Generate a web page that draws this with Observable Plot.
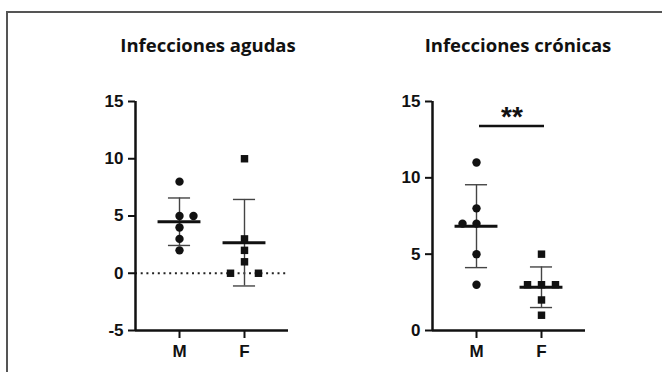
<!DOCTYPE html>
<html><head><meta charset="utf-8">
<script src="https://cdn.jsdelivr.net/npm/d3@7"></script>
<script src="https://cdn.jsdelivr.net/npm/@observablehq/plot@0.6"></script>
<style>
body{margin:0;background:#fff;}
#wrap{position:relative;width:662px;height:372px;overflow:hidden;background:#fff;}
#frame{position:absolute;left:6px;top:11px;right:-10px;bottom:-10px;border-top:2px solid #555;border-left:2px solid #555;}
.title{position:absolute;font-family:"Open Sans";font-weight:700;font-size:18.5px;color:#111;white-space:nowrap;transform:translateX(-50%);}
.panel{position:absolute;top:70px;}
</style></head><body>
<div id="wrap"><div id="frame"></div>
<div class="title" style="left:208px;top:32px">Infecciones agudas</div>
<div class="title" style="left:518px;top:32px">Infecciones crónicas</div>
<div class="panel" id="p1" style="left:60px"></div>
<div class="panel" id="p2" style="left:357px"></div>
</div>
<script>
const groups = ["M", "F"];
const acuteM = [8, 5, 5, 4, 3, 2];
const acuteMLane = [0, 0, 1, 0, 0, 0];
const acuteF = [10, 3, 2, 1, 0, 0];
const acuteFLane = [0, 0, 0, 0, -1, 1];
const chronicM = [11, 8, 7, 7, 5, 3];
const chronicMLane = [0, 0, -1, 0, 0, 0];
const chronicF = [5, 3, 3, 3, 2, 1];
const chronicFLane = [0, -1, 0, 1, 0, 0];
const acuteTicks = [-5, 0, 5, 10, 15];
const chronicTicks = [0, 5, 10, 15];
const sigLabel = "**";
const sigLevel = 13.4;

function panel(M, ML, F, FL, ticks, sig) {
  const pts = [
    ...M.map((v, i) => ({g: 0, v, lane: ML[i], shape: "circle"})),
    ...F.map((v, i) => ({g: 1, v, lane: FL[i], shape: "square"}))
  ];
  const stats = [M, F].map((a, i) => ({g: i, mean: d3.mean(a), sd: d3.deviation(a)}));
  const xd = [-0.677, 1.677];
  const yd = [ticks[0], ticks[ticks.length - 1]];
  const marks = [];
  if (yd[0] < 0) marks.push(Plot.ruleY([0], {stroke: "#222", strokeWidth: 2, strokeDasharray: "2,3.7"}));
  marks.push(
    Plot.ruleX(stats, {x: "g", y1: d => d.mean - d.sd, y2: d => d.mean + d.sd, stroke: "#444", strokeWidth: 1.4}),
    Plot.ruleY(stats, {y: d => d.mean + d.sd, x1: d => d.g - 0.17, x2: d => d.g + 0.17, stroke: "#444", strokeWidth: 1.4}),
    Plot.ruleY(stats, {y: d => d.mean - d.sd, x1: d => d.g - 0.17, x2: d => d.g + 0.17, stroke: "#444", strokeWidth: 1.4}),
    Plot.ruleY(stats, {y: "mean", x1: d => d.g - 0.33, x2: d => d.g + 0.33, stroke: "#111", strokeWidth: 3}),
    Plot.dot(pts, {x: d => d.g + d.lane * 0.215, y: "v", symbol: "shape", r: 4.2, fill: "#111", stroke: "none"}),
    Plot.ruleX([xd[0]], {stroke: "#111", strokeWidth: 2.5}),
    Plot.ruleY([yd[0]], {stroke: "#111", strokeWidth: 2.5}),
    Plot.axisY({ticks, tickFormat: d => `${d}`, tickSize: 7, tickPadding: 5, fontSize: 17, fontWeight: "bold", stroke: "#111", strokeWidth: 2, fill: "#111", label: null}),
    Plot.axisX({ticks: [0, 1], tickFormat: i => groups[i], tickSize: 8, tickPadding: 6, fontSize: 17, fontWeight: "bold", stroke: "#111", strokeWidth: 2, fill: "#111", label: null})
  );
  if (sig != null) {
    marks.push(
      Plot.ruleY([sig], {x1: 0, x2: 1, dx: 3, stroke: "#111", strokeWidth: 2.5}),
      Plot.text([sigLabel], {x: 0.5, y: sig, dx: 3, dy: 0, lineAnchor: "bottom", text: d => d, fontSize: 28, fontWeight: "bold", fill: "#111"})
    );
  }
  return Plot.plot({
    width: 250, height: 302,
    marginLeft: 75, marginRight: 22, marginTop: 31, marginBottom: 42,
    style: {fontFamily: "Liberation Sans, Arial, sans-serif", background: "transparent", overflow: "visible"},
    x: {type: "linear", domain: xd, axis: null},
    y: {domain: yd, axis: null},
    marks
  });
}

document.getElementById("p1").append(panel(acuteM, acuteMLane, acuteF, acuteFLane, acuteTicks, null));
document.getElementById("p2").append(panel(chronicM, chronicMLane, chronicF, chronicFLane, chronicTicks, sigLevel));
</script>
</body></html>
